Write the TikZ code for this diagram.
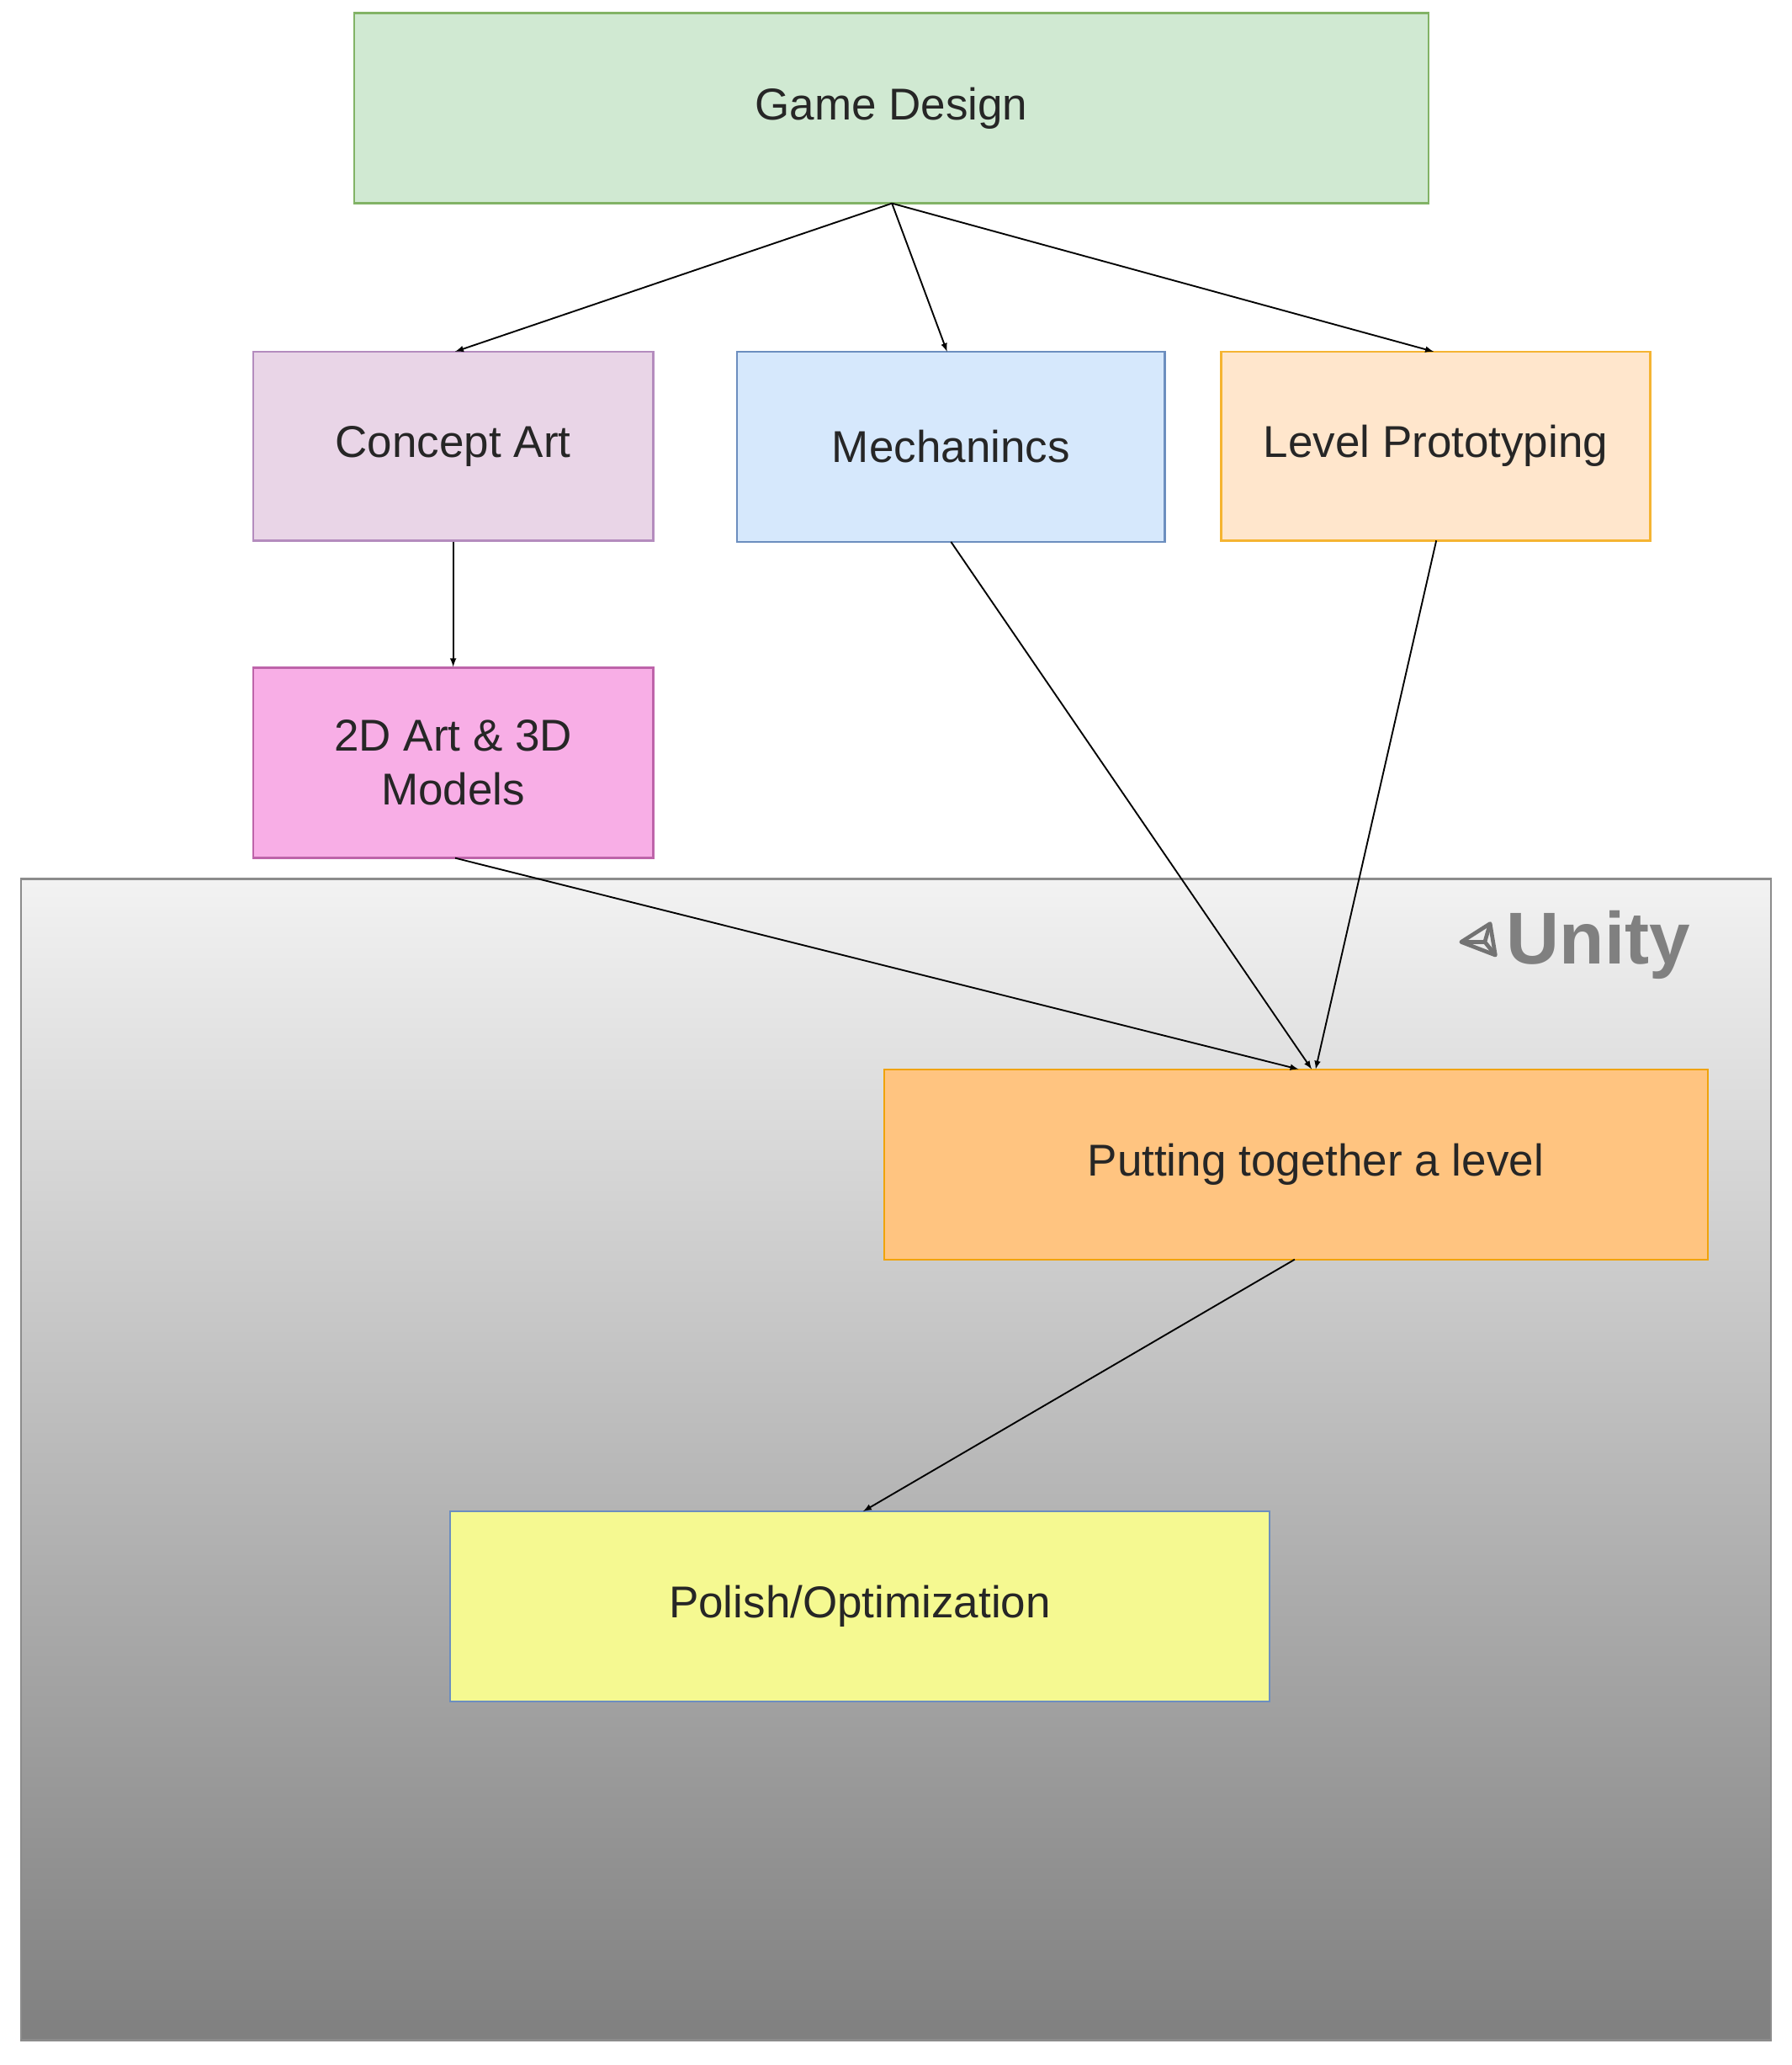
\documentclass[tikz,border=0pt]{standalone}
\usepackage{fontspec}
\setmainfont{Liberation Sans}
\definecolor{gdf}{RGB}{208,233,210}\definecolor{gdd}{RGB}{130,179,102}
\definecolor{caf}{RGB}{233,213,231}\definecolor{cad}{RGB}{180,140,190}
\definecolor{mef}{RGB}{214,232,252}\definecolor{blu}{RGB}{108,142,191}
\definecolor{lpf}{RGB}{255,230,204}\definecolor{lpd}{RGB}{245,180,50}
\definecolor{arf}{RGB}{248,174,230}\definecolor{ard}{RGB}{190,100,170}
\definecolor{ptf}{RGB}{255,196,128}\definecolor{ptd}{RGB}{240,163,10}
\definecolor{pof}{RGB}{245,249,145}
\begin{document}
\begin{tikzpicture}[x=1pt,y=-1pt,
  box/.style={draw=#1,line width=1.5pt,inner sep=0pt,font=\fontsize{34}{41}\selectfont,align=center,text=black!85},
  arr/.style={-latex,line width=1.2pt}]
\useasboundingbox (0,0) rectangle (1366,1574);
\fill[white] (0,0) rectangle (1366,1574);
\shade[top color=black!5,bottom color=black!50] (16,670) rectangle (1350,1555);
\draw[black!45,line width=1.5pt] (16,670) rectangle (1350,1555);
\node[box=gdd,fill=gdf, minimum width=819pt,minimum height=145pt] (gd) at (679.5,82.5) {Game Design};
\node[box=cad,fill=caf, minimum width=305pt,minimum height=144pt] (ca) at (345.5,340) {Concept Art};
\node[box=blu,fill=mef, minimum width=326pt,minimum height=145pt] (me) at (725,340.5) {Mechanincs};
\node[box=lpd,fill=lpf, minimum width=327pt,minimum height=144pt] (lp) at (1094.5,340) {Level Prototyping};
\node[box=ard,fill=arf, minimum width=305pt,minimum height=145pt] (art) at (345.5,581.5) {2D Art \& 3D\\Models};
\node[box=ptd,fill=ptf, minimum width=628pt,minimum height=145pt] (pt) at (988,887.5) {\hspace*{30pt}Putting together a level};
\node[box=blu,fill=pof, minimum width=625pt,minimum height=145pt] (po) at (655.5,1224.5) {Polish/Optimization};
\node[font=\bfseries\fontsize{56}{60}\selectfont,text=black!50,anchor=west] (un) at (1145,720) {Unity};
\begin{scope}[shift={(1128,718)},black!55,line width=3pt,line join=round]
\draw (-14,0) -- (8,-14) -- (12,10) -- cycle;
\draw (-14,0) -- (4,0) -- (8,-14) (4,0) -- (12,10);
\end{scope}
\coordinate (gdb) at (680,155);
\draw[arr] (gdb) -- (347,268);
\draw[arr] (gdb) -- (722,268);
\draw[arr] (gdb) -- (1093,268);
\draw[arr] (ca.south) -- (art.north);
\draw[arr] (725,413) -- (1000,815);
\draw[arr] (1095,412) -- (1003,815);
\draw[arr] (347,654) -- (990,815);
\draw[arr] (987,960) -- (658,1152);
\end{tikzpicture}
\end{document}
